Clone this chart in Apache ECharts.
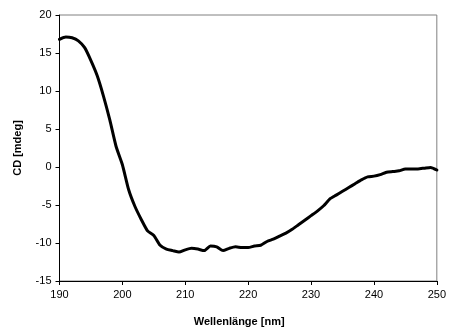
<!DOCTYPE html>
<html>
<head>
<meta charset="utf-8">
<script src="https://cdn.jsdelivr.net/npm/echarts@6/dist/echarts.min.js"></script>
<style>html,body{margin:0;padding:0;background:#fff}#c{width:449px;height:332px}</style>
</head>
<body>
<div id="c"></div>
<script>
const wavelengths = [190,191,192,193,194,195,196,197,198,199,200,201,202,203,204,205,206,207,208,209,210,211,212,213,214,215,216,217,218,219,220,221,222,223,224,225,226,227,228,229,230,231,232,233,234,235,236,237,238,239,240,241,242,243,244,245,246,247,248,249,250];
const cdValues = [16.8,17.1,17.0,16.6,15.7,14.0,12.0,9.3,6.2,2.7,0.3,-3.0,-5.2,-6.9,-8.4,-9.0,-10.3,-10.8,-11.0,-11.2,-10.9,-10.7,-10.8,-11.0,-10.4,-10.5,-11.0,-10.7,-10.5,-10.6,-10.6,-10.4,-10.3,-9.8,-9.5,-9.1,-8.7,-8.2,-7.6,-7.0,-6.4,-5.8,-5.1,-4.2,-3.7,-3.2,-2.7,-2.2,-1.7,-1.3,-1.2,-1.0,-0.7,-0.6,-0.5,-0.25,-0.25,-0.25,-0.15,-0.05,-0.4];
const xTitle = 'Wellenlänge [nm]';
const yTitle = 'CD [mdeg]';

const chart = echarts.init(document.getElementById('c'), null, {renderer: 'canvas'});
const font = 'Liberation Sans, Arial, sans-serif';
chart.setOption({
  animation: false,
  grid: {left: 59.5, right: 7.3, top: 15, bottom: 42, show: true, borderColor: '#808080', borderWidth: 1, backgroundColor: 'transparent'},
  xAxis: {
    type: 'value', min: 190, max: 250, interval: 10,
    name: xTitle, nameLocation: 'middle', nameGap: 35,
    nameTextStyle: {fontFamily: font, fontSize: 11, fontWeight: 'bold', color: '#000', padding: [0, 18, 0, 0]},
    axisLine: {show: true, onZero: false, lineStyle: {color: '#000', width: 1}},
    axisTick: {show: true, inside: false, length: 4, lineStyle: {color: '#000'}},
    axisLabel: {fontFamily: font, fontSize: 11, color: '#000', margin: 8},
    splitLine: {show: false}
  },
  yAxis: {
    type: 'value', min: -15, max: 20, interval: 5,
    name: yTitle, nameLocation: 'middle', nameGap: 36, nameRotate: 90,
    nameTextStyle: {fontFamily: font, fontSize: 11, fontWeight: 'bold', color: '#000'},
    axisLine: {show: true, onZero: false, lineStyle: {color: '#000', width: 1}},
    axisTick: {show: true, inside: false, length: 4, lineStyle: {color: '#000'}},
    axisLabel: {fontFamily: font, fontSize: 11, color: '#000', margin: 8},
    splitLine: {show: false}
  },
  series: [{
    type: 'line',
    data: wavelengths.map((w, i) => [w, cdValues[i]]),
    showSymbol: false,
    smooth: 0.2,
    clip: false,
    lineStyle: {color: '#000', width: 3, join: 'round', cap: 'round'}
  }]
});
</script>
</body>
</html>
